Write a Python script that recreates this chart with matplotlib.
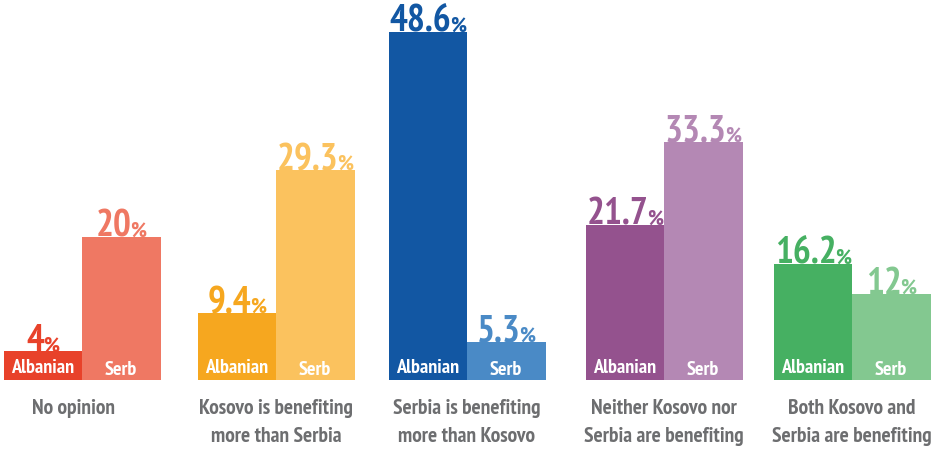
import numpy as np
import matplotlib.pyplot as plt
from matplotlib.offsetbox import TextArea, HPacker, AnnotationBbox

categories = ['No opinion', 'Kosovo is benefiting\nmore than Serbia',
              'Serbia is benefiting\nmore than Kosovo', 'Neither Kosovo nor\nSerbia are benefiting',
              'Both Kosovo and\nSerbia are benefiting']
albanian = [4, 9.4, 48.6, 21.7, 16.2]
serb = [20, 29.3, 5.3, 33.3, 12]
albanian_labels = ['4', '9.4', '48.6', '21.7', '16.2']
serb_labels = ['20', '29.3', '5.3', '33.3', '12']

alb_colors = ['#E8422A', '#F6A71F', '#1257A3', '#94528E', '#46B062']
serb_colors = ['#EF7863', '#FBC25E', '#4A8AC6', '#B488B4', '#83C890']

FONT = ['PT Sans Narrow', 'DejaVu Sans']
centers = np.array([82, 276, 467, 664, 852])
w = 78.5

fig = plt.figure(figsize=(9.36, 4.52), dpi=100)
ax = fig.add_axes([0, 71 / 452, 1, 381 / 452])
ax.set_xlim(0, 936)
ax.set_ylim(0, 381 / 7.16)
ax.axis('off')


def value_label(x, y, num, color):
    parts = [TextArea(num, textprops=dict(fontsize=27, fontweight='bold', color=color, family=FONT)),
             TextArea('%', textprops=dict(fontsize=16, fontweight='bold', color=color, family=FONT))]
    box = HPacker(children=parts, align='baseline', pad=0, sep=-1)
    ab = AnnotationBbox(box, (x, y), xybox=(0, -5), xycoords='data', boxcoords='offset points',
                        box_alignment=(0.5, 0), frameon=False, pad=0, zorder=1)
    ax.add_artist(ab)


for i in range(len(categories)):
    xa = centers[i] - w / 2
    xs = centers[i] + w / 2
    ax.bar(xa, albanian[i], width=w, color=alb_colors[i], zorder=2)
    ax.bar(xs, serb[i], width=w, color=serb_colors[i], zorder=2)
    value_label(xa, albanian[i], albanian_labels[i], alb_colors[i])
    value_label(xs, serb[i], serb_labels[i], serb_colors[i])
    ax.text(xa, 1.8, 'Albanian', ha='center', va='center', color='white', fontsize=14.5,
            fontweight='bold', family=FONT, zorder=3)
    ax.text(xs, 1.5, 'Serb', ha='center', va='center', color='white', fontsize=14.5,
            fontweight='bold', family=FONT, zorder=3)
    ax.text(centers[i] - 9 if i == 0 else centers[i], -2.45, categories[i], ha='center', va='top',
            color='#6D6E70', fontsize=15.5, fontweight='bold', family=FONT, linespacing=1.6,
            clip_on=False)

fig.savefig('out.png', dpi=100)
